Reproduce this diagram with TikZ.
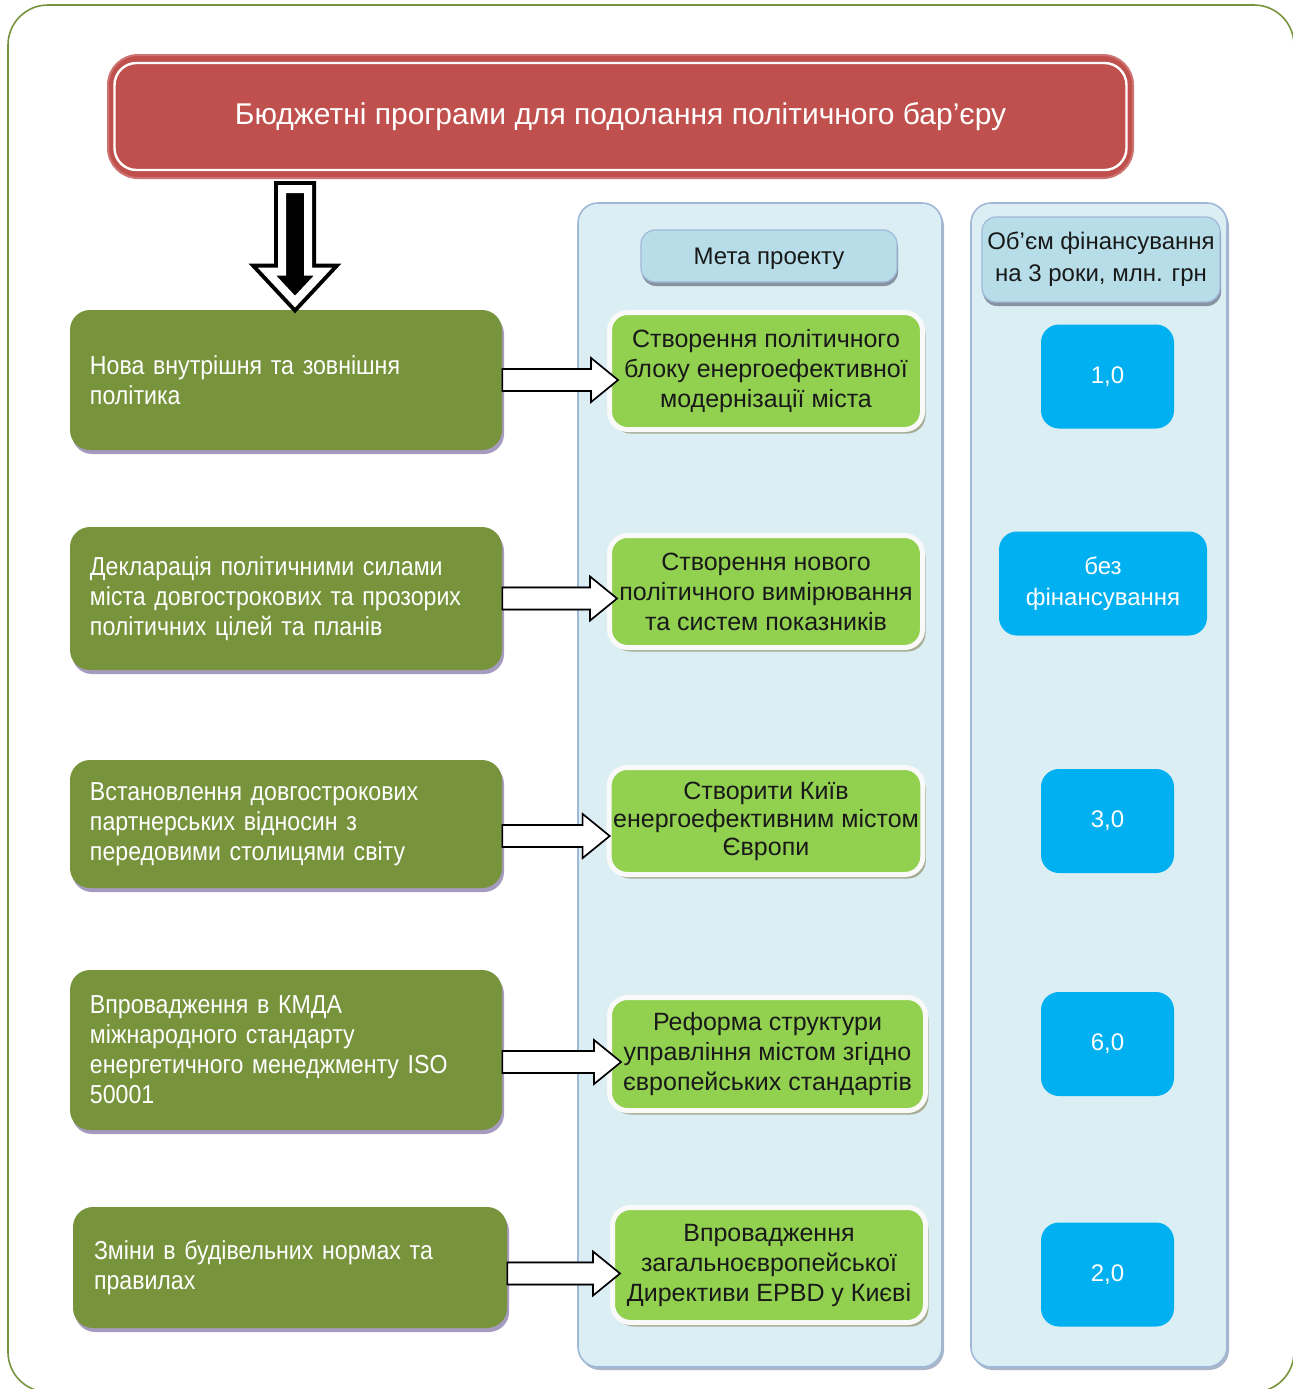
\documentclass[tikz,border=0pt]{standalone}
\usepackage{fontspec}
\setmainfont{Liberation Sans}
\newfontfamily\narrowf[FakeStretch=0.89]{Liberation Sans}
\usetikzlibrary{shadows,calc}
\definecolor{frameg}{RGB}{119,147,60}
\definecolor{dgreen}{RGB}{119,147,60}
\definecolor{lgreen}{RGB}{146,208,80}
\definecolor{bred}{RGB}{192,80,77}
\definecolor{panelf}{RGB}{219,238,244}
\definecolor{panelb}{RGB}{160,184,215}
\definecolor{headf}{RGB}{183,222,232}
\definecolor{bluebox}{RGB}{0,176,240}
\definecolor{lshadow}{RGB}{165,155,190}
\definecolor{mshadow}{RGB}{165,172,145}
\definecolor{pshadow}{RGB}{170,182,200}
\definecolor{arrshadow}{RGB}{110,90,130}
\newcommand\harrow[5]{%
  \draw[#1] let \p1=(#2.east), \p2=(#3.west) in
    (\x1,\y1-#4+5.5pt) -- (\x2+#5-13.5pt,\y1-#4+5.5pt) -- (\x2+#5-13.5pt,\y1-#4+11pt)
    -- (\x2+#5,\y1-#4) -- (\x2+#5-13.5pt,\y1-#4-11pt) -- (\x2+#5-13.5pt,\y1-#4-5.5pt)
    -- (\x1,\y1-#4-5.5pt) -- cycle;}
\begin{document}
\begin{tikzpicture}[x=0.5pt,y=-0.5pt,
  lbox/.style={rounded corners=10pt, fill=dgreen, text=white, align=left,
    text width=196pt, inner xsep=10pt, minimum width=216pt,
    font=\narrowf\fontsize{13}{15}\selectfont,
    drop shadow={shadow xshift=1pt, shadow yshift=-2pt, fill=lshadow, opacity=1}},
  mbox/.style={rounded corners=9pt, fill=lgreen, draw=white!95!gray, line width=2.5pt,
    align=center, minimum width=156.5pt, text=black!90, inner xsep=2pt,
    font=\fontsize{12.5}{15}\selectfont,
    drop shadow={shadow xshift=1.5pt, shadow yshift=-2pt, fill=mshadow, opacity=1}},
  bbox/.style={rounded corners=9pt, fill=bluebox, text=white, align=center,
    minimum height=52pt, font=\fontsize{12}{15.5}\selectfont},
  panelsty/.style={rounded corners=10pt, fill=panelf, draw=panelb, line width=0.8pt,
    drop shadow={shadow xshift=1pt, shadow yshift=-1.5pt, fill=pshadow, opacity=1}},
  hbox/.style={rounded corners=7pt, fill=headf, draw=panelb, line width=0.6pt,
    align=center, text=black!90, font=\fontsize{12}{16}\selectfont,
    drop shadow={shadow xshift=0.5pt, shadow yshift=-2pt, fill=pshadow!80!black, opacity=1}},
  hbody/.style={fill=white, draw=black, line width=0.8pt, line join=miter},
  hshad/.style={fill=arrshadow, draw=arrshadow, line width=0.8pt, shift={(0.8pt,-1.5pt)}},
  dbody/.style={fill=black, draw=black, line width=8pt, line join=miter},
  dwhite/.style={draw=white, line width=4pt, line join=miter}
]
\useasboundingbox (0,0) rectangle (1293,1389);
\begin{scope}
  \clip (0,0) rectangle (1293,1389);
  \draw[frameg, line width=0.8pt, rounded corners=20pt] (8,5) rectangle (1294,1392);
\end{scope}

% banner
\node[rounded corners=15pt, fill=bred, draw=bred!80!white, line width=1pt,
  minimum width=512.5pt, minimum height=61.5pt, text=white,
  font=\fontsize{15}{17}\selectfont] (banner) at (620.5,116.5)
  {Бюджетні програми для подолання політичного бар’єру};
\draw[white, line width=1.2pt, rounded corners=11pt]
  ($(banner.north west)+(3.75pt,-4.5pt)$) rectangle ($(banner.south east)+(-3.75pt,4.5pt)$);

% panels
\node[panelsty, minimum width=182pt, minimum height=582pt] (P1) at (760,785) {};
\node[panelsty, minimum width=128pt, minimum height=582pt] (P2) at (1099,785) {};
\node[hbox, minimum width=128pt, minimum height=26pt, text depth=0pt] (H1) at (769,256) {Мета проекту};
\node[hbox, minimum width=119pt, minimum height=42.5pt, inner xsep=1pt] (H2) at (1101,259.5)
  {Об’єм фінансування\\на 3 роки, млн. грн};

% left boxes
\node[lbox, minimum height=70pt] (L1) at (286,380) {Нова внутрішня та зовнішня\\політика};
\node[lbox, minimum height=71.5pt] (L2) at (286,598.5)
  {Декларація політичними силами\\міста довгострокових та прозорих\\політичних цілей та планів};
\node[lbox, minimum height=64pt] (L3) at (286,824)
  {Встановлення довгострокових\\партнерських відносин з\\передовими столицями світу};
\node[lbox, minimum height=80pt] (L4) at (286,1050)
  {Впровадження в КМДА\\міжнародного стандарту\\енергетичного менеджменту ISO\\50001};
\node[lbox, minimum height=60.5pt, minimum width=217pt] (L5) at (290,1267.5)
  {Зміни в будівельних нормах та\\правилах};

% middle boxes
\node[mbox, minimum height=58.5pt] (M1) at (766,371)
  {Створення політичного\\блоку енергоефективної\\модернізації міста};
\node[mbox, minimum height=56pt] (M2) at (766,591.5)
  {Створення нового\\політичного вимірювання\\та систем показників};
\node[mbox, minimum height=53.5pt, font=\fontsize{12.5}{14}\selectfont] (M3) at (766,821)
  {Створити Київ\\енергоефективним містом\\Європи};
\node[mbox, minimum height=56.5pt, minimum width=158pt] (M4) at (767.5,1054)
  {Реформа структури\\управління містом згідно\\європейських стандартів};
\node[mbox, minimum height=57.5pt] (M5) at (769,1265)
  {Впровадження\\загальноєвропейської\\Директиви EPBD у Києві};

% blue boxes
\node[bbox, minimum width=66.5pt] (B1) at (1107.5,376.5) {1,0};
\node[bbox, minimum width=104pt] (B2) at (1103,583.5) {без\\фінансування};
\node[bbox, minimum width=66.5pt] (B3) at (1107.5,821) {3,0};
\node[bbox, minimum width=66.5pt] (B4) at (1107.5,1044) {6,0};
\node[bbox, minimum width=66.5pt] (B5) at (1107.5,1274.5) {2,0};

% down arrow
\path let \p1=(banner.south), \p2=(L1.north) in
  coordinate (dtop) at (\x2+4.5pt,\y1-5pt)
  coordinate (dtip) at (\x2+4.5pt,\y2+4pt);
\foreach \sty in {dbody,dwhite}{
  \draw[\sty] let \p1=(dtop), \p2=(dtip) in
    (\x1-6.5pt,\y1) -- (\x1-6.5pt,\y2+15pt) -- (\x1-14pt,\y2+15pt) -- (\x2,\y2)
    -- (\x1+14pt,\y2+15pt) -- (\x1+6.5pt,\y2+15pt) -- (\x1+6.5pt,\y1) -- cycle;
}

% horizontal arrows
\harrow{hshad}{L1}{M1}{0pt}{5.5pt}
\harrow{hbody}{L1}{M1}{0pt}{5.5pt}
\harrow{hshad}{L2}{M2}{0pt}{5pt}
\harrow{hbody}{L2}{M2}{0pt}{5pt}
\harrow{hshad}{L3}{M3}{6pt}{1.5pt}
\harrow{hbody}{L3}{M3}{6pt}{1.5pt}
\harrow{hshad}{L4}{M4}{6pt}{7pt}
\harrow{hbody}{L4}{M4}{6pt}{7pt}
\harrow{hshad}{L5}{M5}{3pt}{5pt}
\harrow{hbody}{L5}{M5}{3pt}{5pt}
\end{tikzpicture}
\end{document}
